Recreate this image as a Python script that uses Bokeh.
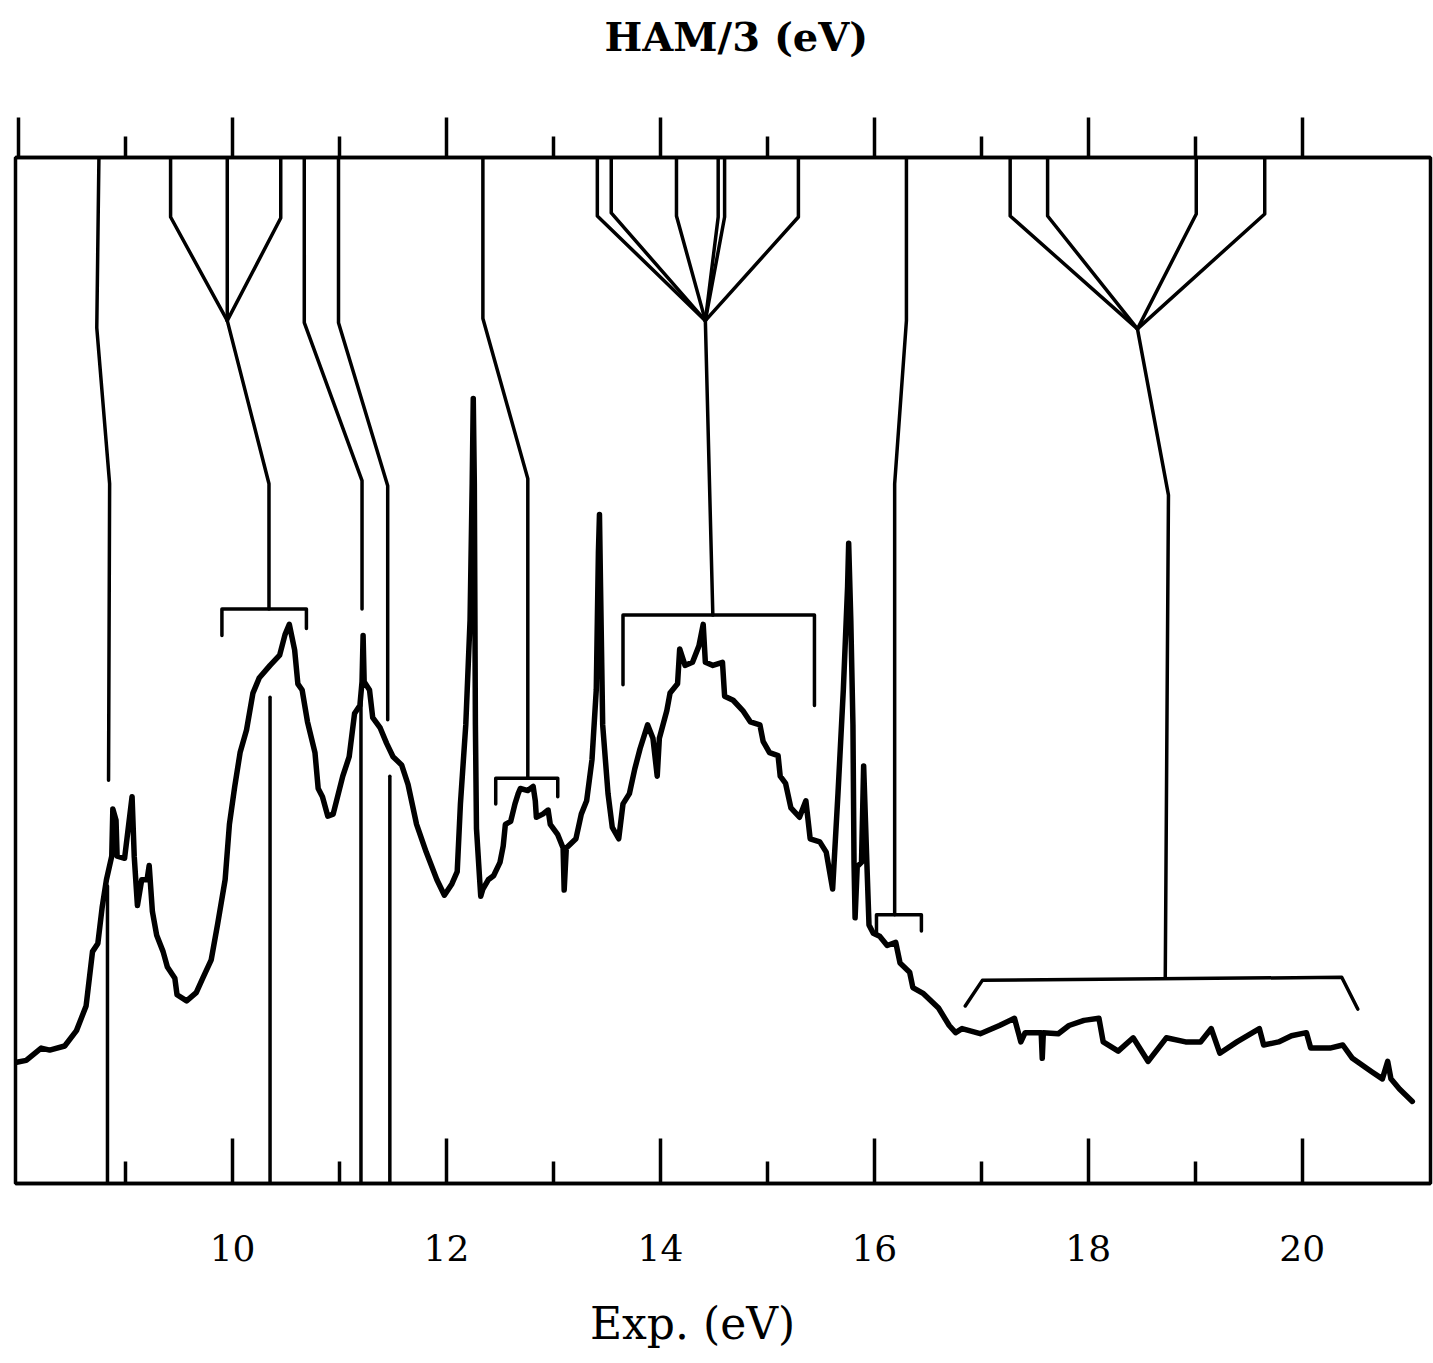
from bokeh.plotting import figure
from bokeh.models import LinearAxis, FixedTicker, Range1d
from bokeh.embed import file_html
from bokeh.resources import INLINE

# ---- experimental spectrum (energy in eV, relative intensity) ----
spec_e = [7.97, 8.07, 8.21, 8.29, 8.43, 8.54, 8.63, 8.69, 8.74, 8.78,
          8.82, 8.87, 8.88, 8.91, 8.92, 8.99, 9.06, 9.08, 9.11, 9.15,
          9.20, 9.22, 9.25, 9.29, 9.35, 9.39, 9.46, 9.48, 9.57, 9.66,
          9.72, 9.80, 9.86, 9.93, 9.97, 10.02, 10.07, 10.13, 10.19, 10.25,
          10.35, 10.44, 10.49, 10.53, 10.58, 10.61, 10.65, 10.70, 10.77, 10.80,
          10.84, 10.89, 10.94, 11.03, 11.09, 11.14, 11.19, 11.21, 11.22, 11.23,
          11.28, 11.31, 11.38, 11.44, 11.50, 11.58, 11.64, 11.72, 11.81, 11.91,
          11.98, 12.05, 12.10, 12.13, 12.18, 12.22, 12.24, 12.25, 12.26, 12.27,
          12.28, 12.31, 12.32, 12.34, 12.39, 12.44, 12.50, 12.53, 12.55, 12.60,
          12.64, 12.67, 12.69, 12.76, 12.81, 12.83, 12.84, 12.90, 12.95, 12.97,
          13.04, 13.09, 13.10, 13.12, 13.21, 13.26, 13.31, 13.36, 13.40, 13.42,
          13.43, 13.44, 13.46, 13.51, 13.55, 13.61, 13.65, 13.71, 13.76, 13.81,
          13.88, 13.93, 13.97, 13.99, 14.06, 14.09, 14.16, 14.18, 14.23, 14.30,
          14.36, 14.40, 14.42, 14.49, 14.58, 14.60, 14.68, 14.77, 14.84, 14.93,
          14.96, 15.02, 15.10, 15.12, 15.17, 15.22, 15.30, 15.36, 15.40, 15.49,
          15.55, 15.61, 15.66, 15.71, 15.75, 15.76, 15.78, 15.80, 15.81, 15.82,
          15.84, 15.88, 15.90, 15.93, 15.95, 15.99, 16.05, 16.12, 16.20, 16.24,
          16.33, 16.36, 16.46, 16.60, 16.70, 16.76, 16.82, 16.99, 17.17, 17.31,
          17.37, 17.41, 17.56, 17.57, 17.58, 17.72, 17.82, 17.96, 18.10, 18.14,
          18.28, 18.42, 18.56, 18.73, 18.91, 19.05, 19.15, 19.23, 19.39, 19.60,
          19.64, 19.78, 19.90, 20.04, 20.08, 20.26, 20.38, 20.47, 20.65, 20.75,
          20.80, 20.83, 20.91, 21.03]
spec_i = [11.8, 12.0, 13.2, 13.0, 13.4, 14.9, 17.3, 22.6, 23.4, 26.9,
          29.6, 31.9, 36.5, 35.4, 31.9, 31.7, 37.7, 31.9, 27.1, 29.6,
          29.6, 31.0, 26.5, 24.2, 22.6, 21.1, 20.0, 18.4, 17.8, 18.6,
          20.0, 21.8, 25.3, 29.6, 35.0, 38.7, 42.0, 44.2, 47.8, 49.3,
          50.5, 51.5, 53.5, 54.5, 52.0, 48.7, 48.1, 45.0, 42.0, 38.5,
          37.7, 35.8, 36.0, 39.7, 41.6, 45.8, 46.6, 48.9, 53.4, 48.9,
          48.1, 45.4, 44.4, 42.9, 41.6, 40.8, 38.9, 35.0, 32.3, 29.6,
          28.1, 29.2, 30.4, 37.0, 44.7, 54.9, 68.2, 76.5, 68.2, 44.7,
          34.6, 29.6, 28.0, 28.7, 29.6, 30.0, 31.3, 32.9, 35.0, 35.3,
          37.0, 38.0, 38.5, 38.3, 38.7, 37.3, 35.7, 36.0, 36.4, 35.0,
          34.0, 32.7, 28.6, 32.7, 33.6, 36.0, 37.3, 41.3, 48.1, 61.5,
          65.2, 58.2, 44.7, 38.0, 34.7, 33.6, 37.0, 38.0, 40.4, 42.4,
          44.7, 43.4, 39.7, 43.4, 46.1, 47.8, 48.7, 52.1, 50.5, 50.8,
          52.4, 54.5, 50.8, 50.5, 50.8, 47.5, 47.1, 46.1, 45.0, 44.7,
          43.1, 42.0, 41.7, 39.7, 39.0, 36.6, 35.7, 37.3, 33.6, 33.3,
          32.3, 28.7, 38.0, 48.1, 58.2, 62.4, 54.9, 44.7, 31.3, 25.9,
          30.9, 31.3, 40.7, 31.3, 25.2, 24.4, 24.1, 23.2, 23.5, 21.5,
          20.6, 19.1, 18.5, 17.1, 15.4, 14.7, 15.1, 14.6, 15.4, 16.1,
          13.8, 14.7, 14.7, 12.2, 14.7, 14.6, 15.4, 15.9, 16.1, 13.8,
          12.9, 14.2, 11.9, 14.2, 13.8, 13.8, 15.1, 12.7, 13.8, 15.1,
          13.5, 13.8, 14.4, 14.7, 13.2, 13.2, 13.5, 12.2, 10.9, 10.2,
          11.9, 10.2, 9.2, 8.0]

# ---- correlation lines: HAM/3 energy (top) -> experimental band ----
corr_xs = [
    [8.75, 8.73, 8.85, 8.84],
    [9.42, 9.42, 9.95],
    [9.95, 9.95],
    [10.45, 10.45, 9.95],
    [9.95, 10.34, 10.34],
    [10.67, 10.67, 11.21, 11.21],
    [10.99, 10.99, 11.45, 11.45],
    [12.34, 12.34, 12.76, 12.76],
    [13.41, 13.41, 14.42],
    [13.54, 13.54, 14.42],
    [14.15, 14.15, 14.42],
    [14.54, 14.54, 14.42],
    [14.60, 14.60, 14.42],
    [15.29, 15.29, 14.42],
    [14.42, 14.49],
    [16.30, 16.30, 16.19, 16.19],
    [17.27, 17.27, 18.46],
    [17.62, 17.62, 18.46],
    [19.01, 19.01, 18.46],
    [19.65, 19.65, 18.46],
    [18.46, 18.75, 18.72],
]
corr_ys = [
    [100, 83.4, 68.2, 39.3],
    [100, 94.2, 84.1],
    [100, 84.1],
    [100, 94.1, 84.1],
    [84.1, 68.2, 56.0],
    [100, 83.9, 68.5, 56.0],
    [100, 83.9, 68.0, 45.2],
    [100, 84.3, 68.7, 39.5],
    [100, 94.3, 84.1],
    [100, 94.6, 84.1],
    [100, 94.3, 84.1],
    [100, 94.2, 84.1],
    [100, 94.2, 84.1],
    [100, 94.2, 84.1],
    [84.1, 55.4],
    [100, 84.1, 68.2, 26.2],
    [100, 94.3, 83.3],
    [100, 94.3, 83.3],
    [100, 94.5, 83.3],
    [100, 94.5, 83.3],
    [83.3, 67.1, 20.0],
]

# ---- brackets over experimental bands ----
br_xs = [
    [9.90, 9.90, 10.69, 10.69],
    [12.46, 12.46, 13.04, 13.04],
    [13.65, 13.65, 15.44, 15.44],
    [16.02, 16.02, 16.44, 16.44],
    [16.85, 17.01, 20.37, 20.52],
]
br_ys = [
    [53.4, 56.0, 56.0, 54.1],
    [37.0, 39.5, 39.5, 37.7],
    [48.6, 55.4, 55.4, 46.6],
    [24.4, 26.2, 26.2, 24.6],
    [17.3, 19.8, 20.1, 17.0],
]

# ---- experimental sharp-line markers dropped to the axis ----
drop_e = [8.83, 10.35, 11.20, 11.47]
drop_top = [29.0, 47.4, 47.1, 39.7]

major_ticks = [10, 12, 14, 16, 18, 20]
minor_ticks = [9, 11, 13, 15, 17, 19]
top_major = [8, 10, 12, 14, 16, 18, 20]
tick_labels = {10: "10", 12: "12", 14: "14", 16: "16", 18: "18", 20: "20"}
bottom_title = "Exp. (eV)"
bottom_title_at = 14.3      # eV position under which the axis title is centred
top_title = "HAM/3 (eV)"
top_title_at = 14.71

FONT = "DejaVu Serif"

p = figure(width=1433, height=1363,
           x_range=Range1d(7.97, 21.2), y_range=Range1d(0, 100),
           output_backend="svg", toolbar_location=None,
           x_axis_location=None, y_axis_location=None,
           min_border_left=15, min_border_right=3,
           min_border_top=157, min_border_bottom=180)
p.grid.visible = False
p.outline_line_color = "black"
p.outline_line_width = 3.5
p.background_fill_color = "white"
p.border_fill_color = "white"


def title_axis(at, text, size, style, standoff):
    ax = LinearAxis(ticker=FixedTicker(ticks=[at], minor_ticks=[]),
                    major_label_overrides={at: text})
    ax.major_tick_out = 0
    ax.major_tick_in = 0
    ax.minor_tick_out = 0
    ax.minor_tick_in = 0
    ax.axis_line_color = None
    ax.major_tick_line_color = None
    ax.minor_tick_line_color = None
    ax.major_label_standoff = standoff
    ax.major_label_text_font = FONT
    ax.major_label_text_font_size = size
    ax.major_label_text_font_style = style
    ax.major_label_text_color = "black"
    return ax


bottom = LinearAxis(ticker=FixedTicker(ticks=major_ticks, minor_ticks=minor_ticks),
                    major_label_overrides=tick_labels)
bottom.major_tick_in = 45
bottom.major_tick_out = 0
bottom.minor_tick_in = 22
bottom.minor_tick_out = 0
bottom.axis_line_width = 3.5
bottom.major_tick_line_width = 3.5
bottom.minor_tick_line_width = 3.5
bottom.major_label_standoff = 51
bottom.major_label_text_font = FONT
bottom.major_label_text_font_size = "36px"
bottom.major_label_text_color = "black"
p.add_layout(bottom, "below")
p.add_layout(title_axis(bottom_title_at, bottom_title, "44px", "normal", 34), "below")

top = LinearAxis(ticker=FixedTicker(ticks=top_major, minor_ticks=minor_ticks),
                 major_label_overrides={t: "" for t in top_major})
top.major_tick_in = 0
top.major_tick_out = 40
top.minor_tick_in = 0
top.minor_tick_out = 21
top.axis_line_width = 3.5
top.major_tick_line_width = 3.5
top.minor_tick_line_width = 3.5
top.major_label_text_font_size = "1px"
top.major_label_standoff = 0
p.add_layout(top, "above")
p.add_layout(title_axis(top_title_at, top_title, "40px", "bold", 58), "above")

p.line(spec_e, spec_i, line_color="black", line_width=5.5,
       line_join="round", line_cap="round")
p.multi_line(corr_xs, corr_ys, line_color="black", line_width=3.5,
             line_join="round", line_cap="round")
p.multi_line(br_xs, br_ys, line_color="black", line_width=3.5,
             line_join="round", line_cap="round")
p.segment(x0=drop_e, y0=[0] * len(drop_e), x1=drop_e, y1=drop_top,
          line_color="black", line_width=3.5, line_cap="round")

open("out.html", "w").write(file_html(p, INLINE))
